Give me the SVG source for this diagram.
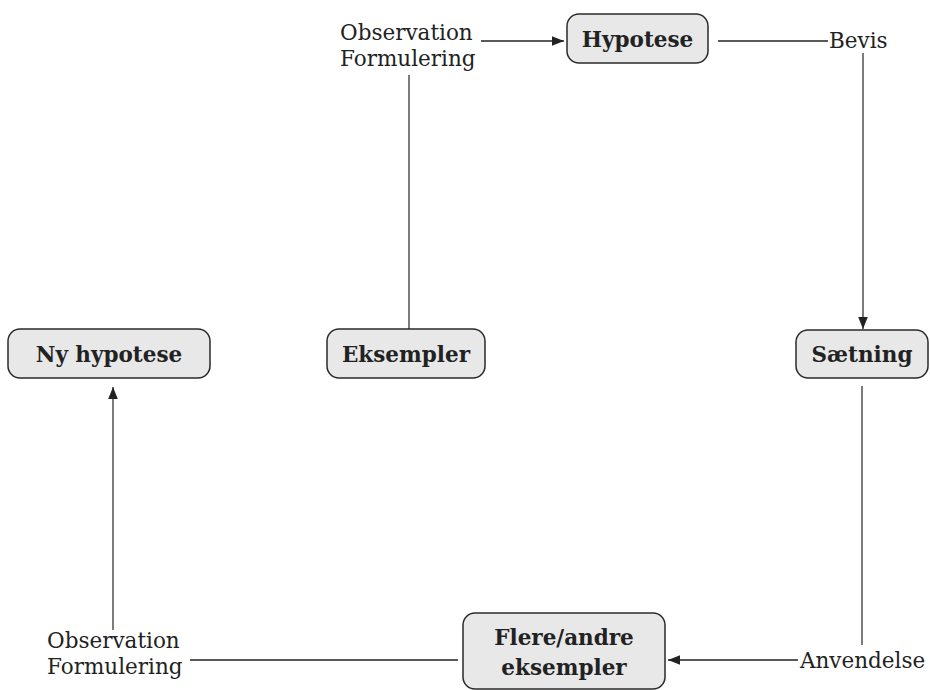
<svg xmlns="http://www.w3.org/2000/svg" width="930" height="690" viewBox="0 0 930 690">
<style>
.box{fill:#e8e8e9;stroke:#2a2a2a;stroke-width:1.5}
.lbl{font-family:"DejaVu Serif","Liberation Serif",serif;font-weight:bold;font-size:21.5px;fill:#222;text-anchor:middle}
.txt{font-family:"DejaVu Serif","Liberation Serif",serif;font-size:21.5px;fill:#222}
.ln{stroke:#222;stroke-width:1.6;fill:none}
.vl{stroke:#444;stroke-width:1.4;fill:none}
</style>
<defs>
<marker id="ah" viewBox="0 0 10 10" refX="10" refY="5" markerWidth="12" markerHeight="12" markerUnits="userSpaceOnUse" orient="auto">
<path d="M0,1 L10,5 L0,9 Z" fill="#222"/>
</marker>
</defs>
<rect width="930" height="690" fill="#fff"/>
<g id="connectors">
<line class="ln" x1="481" y1="41" x2="564" y2="41" marker-end="url(#ah)"/>
<line class="ln" x1="718" y1="41" x2="828" y2="41"/>
<line class="vl" x1="863" y1="53" x2="863" y2="329" marker-end="url(#ah)"/>
<line class="vl" x1="409" y1="75" x2="409" y2="329"/>
<line class="vl" x1="862" y1="386" x2="862" y2="645"/>
<line class="ln" x1="798" y1="660" x2="668" y2="660" marker-end="url(#ah)"/>
<line class="ln" x1="190" y1="660" x2="458" y2="660"/>
<line class="vl" x1="113" y1="630" x2="113" y2="387" marker-end="url(#ah)"/>
</g>
<g id="obs-top">
<text class="txt" x="340" y="40">Observation</text>
<text class="txt" x="340" y="66">Formulering</text>
</g>
<g id="hypotese">
<rect class="box" x="567" y="14" width="141" height="49" rx="12"/>
<text class="lbl" x="637.5" y="47">Hypotese</text>
</g>
<g id="bevis">
<text class="txt" x="829" y="48">Bevis</text>
</g>
<g id="ny-hypotese">
<rect class="box" x="8" y="329" width="202" height="49" rx="12"/>
<text class="lbl" x="109" y="362">Ny hypotese</text>
</g>
<g id="eksempler">
<rect class="box" x="327" y="329" width="158" height="49" rx="12"/>
<text class="lbl" x="406" y="362">Eksempler</text>
</g>
<g id="saetning">
<rect class="box" x="796" y="330" width="132" height="48" rx="12"/>
<text class="lbl" x="862" y="362">Sætning</text>
</g>
<g id="flere">
<rect class="box" x="463" y="613" width="202" height="76" rx="12"/>
<text class="lbl" x="564" y="645">Flere/andre</text>
<text class="lbl" x="564" y="675">eksempler</text>
</g>
<g id="anvendelse">
<text class="txt" x="800" y="668">Anvendelse</text>
</g>
<g id="obs-bottom">
<text class="txt" x="47" y="648">Observation</text>
<text class="txt" x="47" y="674">Formulering</text>
</g>
</svg>
